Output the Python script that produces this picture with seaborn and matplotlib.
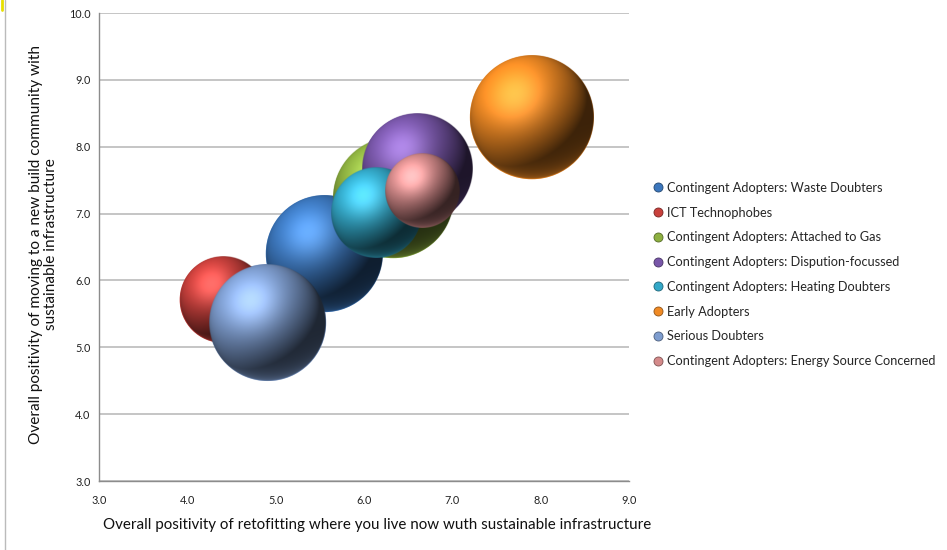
import numpy as np
import pandas as pd
import seaborn as sns
import matplotlib
matplotlib.use("Agg")
import matplotlib.pyplot as plt
from matplotlib.colors import to_rgb
from matplotlib.lines import Line2D

# ---------------- data ----------------
segments = [
    "Contingent Adopters: Waste Doubters",
    "ICT Technophobes",
    "Contingent Adopters: Attached to Gas",
    "Contingent Adopters: Dispution-focussed",
    "Contingent Adopters: Heating Doubters",
    "Early Adopters",
    "Serious Doubters",
    "Contingent Adopters: Energy Source Concerned",
]
retrofit_positivity = [5.55, 4.40, 6.33, 6.60, 6.14, 7.90, 4.91, 6.66]
newbuild_positivity = [6.40, 5.71, 7.23, 7.67, 7.01, 8.44, 5.37, 7.34]
segment_size = [34.2, 18.5, 36.0, 30.3, 20.3, 38.4, 34.2, 13.7]
colors = ["#3C77BD", "#C8403C", "#8DB040", "#7856A8",
          "#33A8C8", "#F08A24", "#7E9DCF", "#D48A8A"]
x_ticks = [3.0, 4.0, 5.0, 6.0, 7.0, 8.0, 9.0]
y_ticks = [3.0, 4.0, 5.0, 6.0, 7.0, 8.0, 9.0, 10.0]

df = pd.DataFrame({"segment": segments, "x": retrofit_positivity,
                   "y": newbuild_positivity, "size": segment_size})

sns.set_theme(style="white")
plt.rcParams["font.family"] = ["Lato", "DejaVu Sans"]

fig = plt.figure(figsize=(9.47, 5.5), dpi=100)
ax = fig.add_axes([99 / 947, 1 - 481 / 550, 530 / 947, 468 / 550])

K = 207.4
sns.scatterplot(data=df, x="x", y="y", hue="segment", palette=colors,
                size="size", sizes=(0, 40 * K), size_norm=(0, 40),
                legend=False, ax=ax, linewidth=0, zorder=2)
ax.set_xlim(3, 9)
ax.set_ylim(3, 10)


def sphere(base, npx):
    base = np.array(to_rgb(base))
    t = np.linspace(-1, 1, npx)
    u, v = np.meshgrid(t, -t)
    r = np.sqrt(u ** 2 + v ** 2)
    z = np.sqrt(np.clip(1 - r ** 2, 0, 1))
    L = np.array([-0.45, 0.6, 0.66]); L /= np.linalg.norm(L)
    diff = np.clip(u * L[0] + v * L[1] + z * L[2], 0, 1)
    H = L + np.array([0, 0, 1.0]); H /= np.linalg.norm(H)
    spec = np.clip(u * H[0] + v * H[1] + z * H[2], 0, 1) ** 10
    refl = np.clip(-v, 0, 1) ** 2 * (1 - z) ** 1.2 * 0.45
    shade = 0.25 + 0.85 * diff
    rgb = base[None, None, :] * shade[..., None] \
        + spec[..., None] * 0.28 * (0.5 + 0.5 * base[None, None, :]) \
        + refl[..., None] * base[None, None, :]
    rgb = np.clip(rgb, 0, 1)
    alpha = np.clip((1 - r) * npx / 2 + 0.5, 0, 1)
    return np.dstack([rgb, alpha])


for i, row in df.iterrows():
    s = row["size"] * K
    rpx = np.sqrt(s) / 2 * fig.dpi / 72
    cx, cy = ax.transData.transform((row["x"], row["y"]))
    x0, y0 = ax.transData.inverted().transform((cx - rpx, cy - rpx))
    x1, y1 = ax.transData.inverted().transform((cx + rpx, cy + rpx))
    img = sphere(colors[i], int(rpx * 4))
    ax.imshow(img, extent=(x0, x1, y0, y1), origin="upper", aspect="auto",
              interpolation="bilinear", zorder=3 + i)

ax.set_xlim(3, 9)
ax.set_ylim(3, 10)
ax.set_xticks(x_ticks)
ax.set_yticks(y_ticks)
ax.set_xticklabels([f"{t:.1f}" for t in x_ticks])
ax.set_yticklabels([f"{t:.1f}" for t in y_ticks])
ax.tick_params(axis="both", length=0, labelsize=7.8, colors="#222222")
ax.tick_params(axis="x", pad=10)
ax.tick_params(axis="y", pad=6)
ax.yaxis.grid(True, color="#B5B5B5", lw=1.1)
ax.xaxis.grid(False)
ax.set_axisbelow(True)
for sp in ["top", "right"]:
    ax.spines[sp].set_visible(False)
for sp in ["left", "bottom"]:
    ax.spines[sp].set_color("#8C8C8C")
    ax.spines[sp].set_linewidth(1.0)

ax.set_xlabel("Overall positivity of retofitting where you live now wuth sustainable infrastructure",
              fontsize=10.9, color="#111111")
ax.xaxis.set_label_coords(377 / 947, 1 - 525 / 550, transform=fig.transFigure)
ax.xaxis.label.set_va("center")
ax.set_ylabel("Overall positivity of moving to a new build community with\nsustainable infrastructure",
              fontsize=11.1, color="#111111", linespacing=1.1)
ax.yaxis.set_label_coords(43.5 / 947, 1 - 244.5 / 550, transform=fig.transFigure)
ax.yaxis.label.set_va("center")

handles = []
for c in colors:
    dark = tuple(np.array(to_rgb(c)) * 0.6)
    handles.append(Line2D([], [], marker="o", linestyle="", markersize=6.5,
                          markerfacecolor=c, markeredgecolor=dark, markeredgewidth=0.6))
fig.legend(handles, segments, loc="center left", bbox_to_anchor=(653 / 947, 1 - 274.5 / 550),
           frameon=False, fontsize=9.2, handlelength=0.8, handletextpad=0.3,
           labelspacing=1.0, borderpad=0, borderaxespad=0)

fig.add_artist(Line2D([5 / 947, 5 / 947], [0, 1], transform=fig.transFigure,
                      color="#BBBBBB", lw=1))
fig.add_artist(Line2D([1.5 / 947, 1.5 / 947], [1 - 10 / 550, 1], transform=fig.transFigure,
                      color="#E8E000", lw=2))

fig.savefig("out.png", dpi=100)
